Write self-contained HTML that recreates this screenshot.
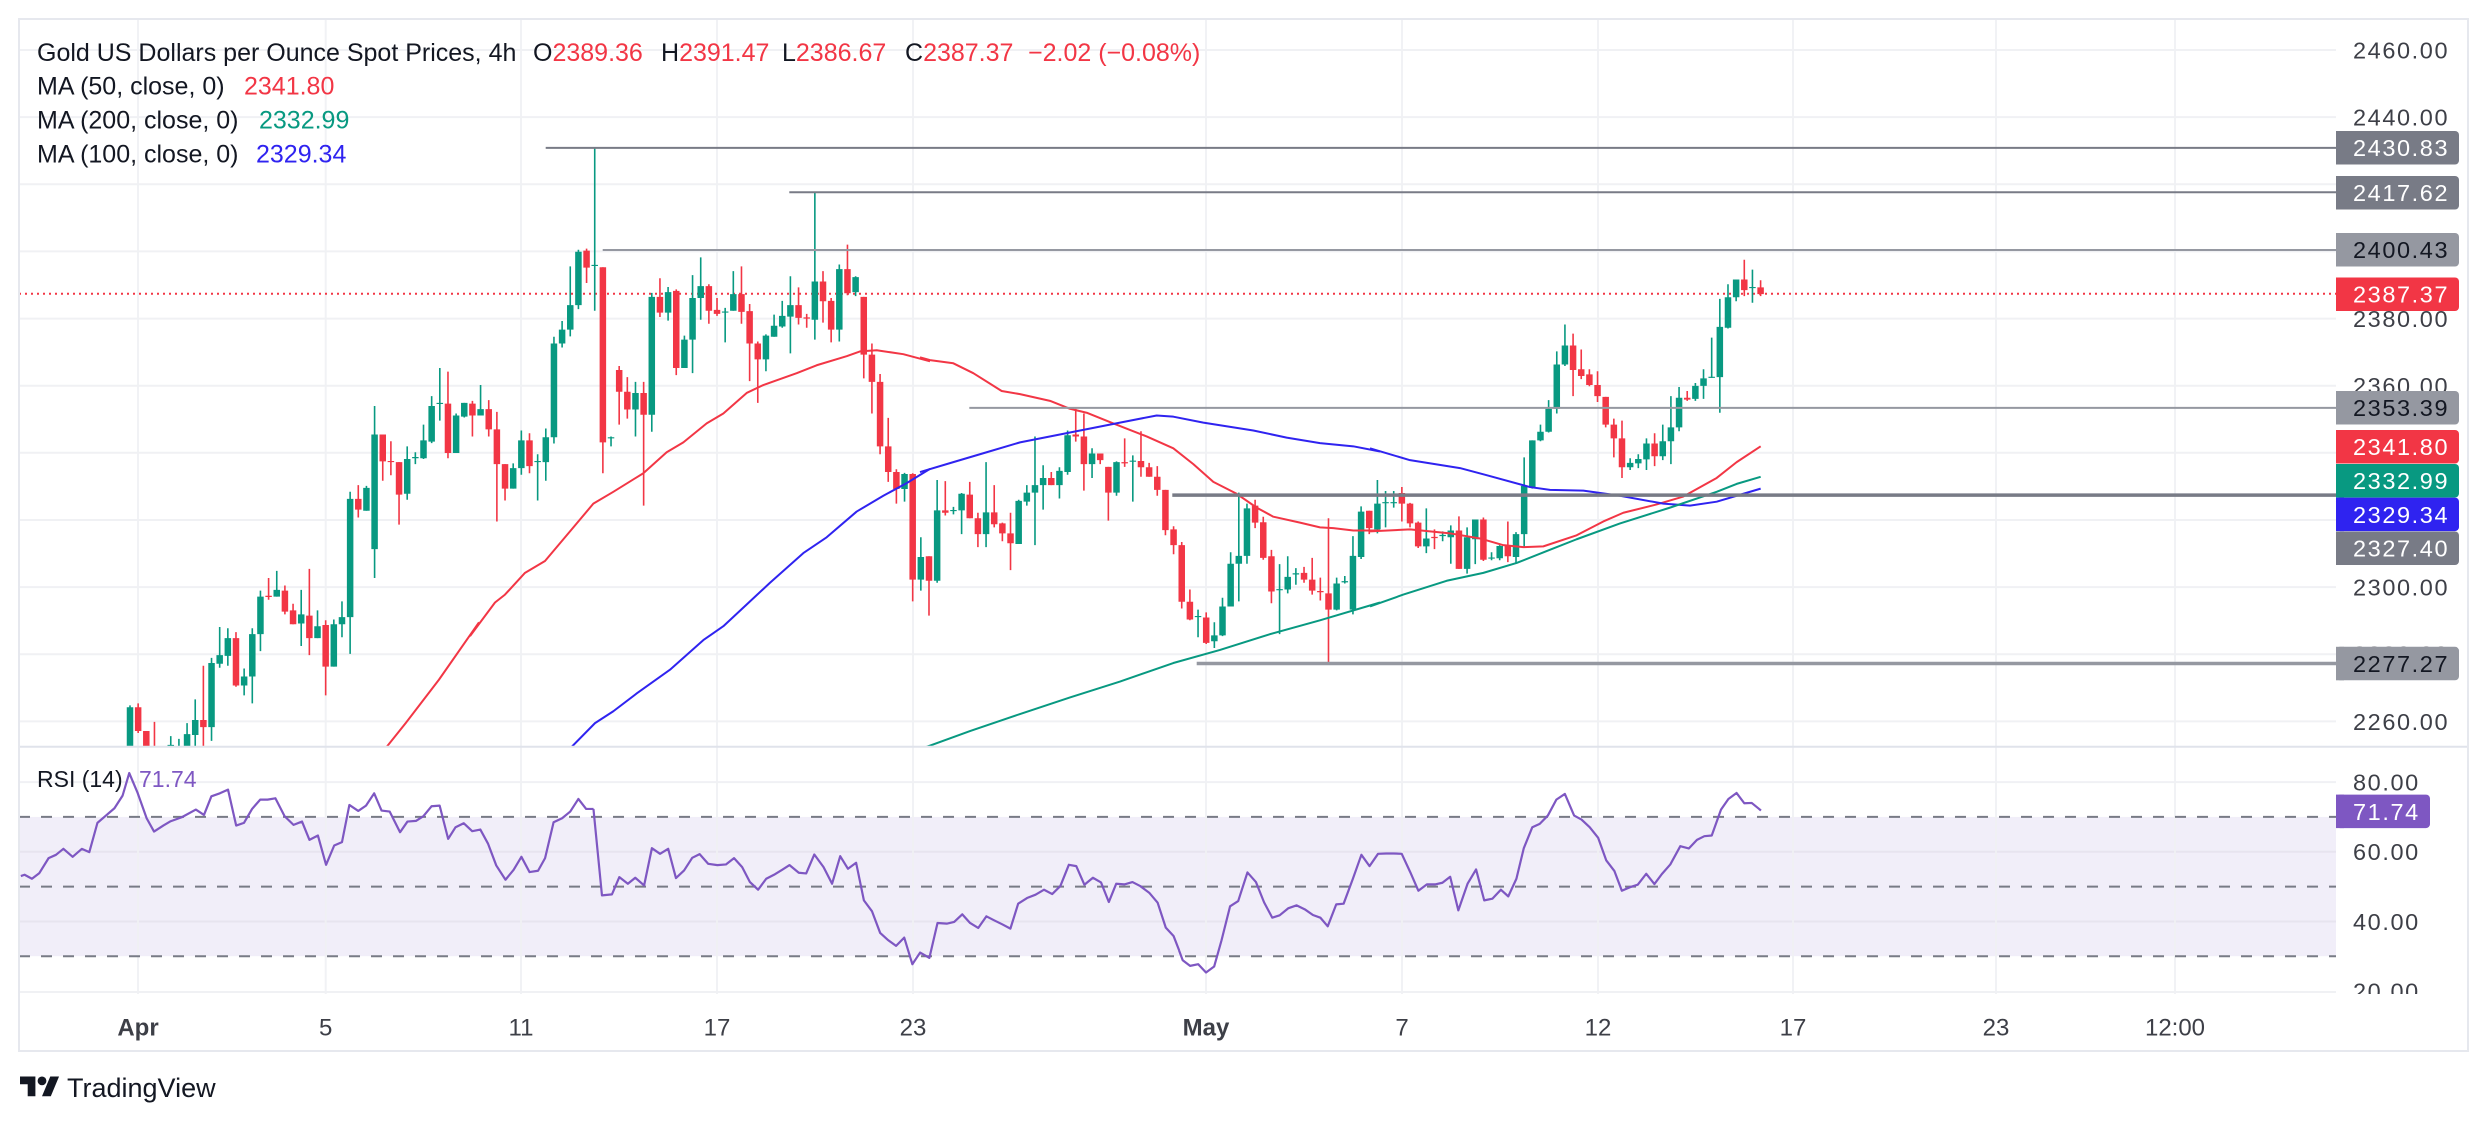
<!DOCTYPE html>
<html>
<head>
<meta charset="utf-8">
<style>
html,body{margin:0;padding:0;background:#fff;width:2488px;height:1122px;overflow:hidden;}
svg{display:block;}
</style>
</head>
<body>
<svg width="2488" height="1122" viewBox="0 0 2488 1122" xmlns="http://www.w3.org/2000/svg" font-family="'Liberation Sans', Arial, sans-serif">
<defs>
  <clipPath id="pp"><rect x="19" y="19" width="2317" height="728"/></clipPath>
  <clipPath id="rp"><rect x="19" y="747" width="2317" height="246"/></clipPath>
  <clipPath id="ax"><rect x="2336" y="747" width="132" height="247"/></clipPath>
</defs>
<rect x="0" y="0" width="2488" height="1122" fill="#fff"/>

<!-- RSI band -->
<rect x="19" y="816.9" width="2317" height="139.3" fill="#f1eef9"/>

<!-- horizontal gridlines -->
<g stroke="#f0f1f4" stroke-width="2">
  <line x1="19" x2="2336" y1="50" y2="50"/>
  <line x1="19" x2="2336" y1="117.1" y2="117.1"/>
  <line x1="19" x2="2336" y1="184.3" y2="184.3"/>
  <line x1="19" x2="2336" y1="251.4" y2="251.4"/>
  <line x1="19" x2="2336" y1="318.6" y2="318.6"/>
  <line x1="19" x2="2336" y1="385.7" y2="385.7"/>
  <line x1="19" x2="2336" y1="452.8" y2="452.8"/>
  <line x1="19" x2="2336" y1="520" y2="520"/>
  <line x1="19" x2="2336" y1="587.1" y2="587.1"/>
  <line x1="19" x2="2336" y1="654.3" y2="654.3"/>
  <line x1="19" x2="2336" y1="721.4" y2="721.4"/>
  <line x1="19" x2="2336" y1="782.1" y2="782.1"/>
  <line x1="19" x2="2336" y1="992" y2="992"/>
</g>
<g stroke="#e7e4ef" stroke-width="2">
  <line x1="19" x2="2336" y1="851.8" y2="851.8"/>
  <line x1="19" x2="2336" y1="921.5" y2="921.5"/>
</g>
<!-- vertical gridlines -->
<g stroke="#f0f1f4" stroke-width="2" opacity="0.9">
  <line x1="138" x2="138" y1="19" y2="994"/>
  <line x1="325.7" x2="325.7" y1="19" y2="994"/>
  <line x1="521" x2="521" y1="19" y2="994"/>
  <line x1="717" x2="717" y1="19" y2="994"/>
  <line x1="913" x2="913" y1="19" y2="994"/>
  <line x1="1206" x2="1206" y1="19" y2="994"/>
  <line x1="1402" x2="1402" y1="19" y2="994"/>
  <line x1="1598" x2="1598" y1="19" y2="994"/>
  <line x1="1793" x2="1793" y1="19" y2="994"/>
  <line x1="1996" x2="1996" y1="19" y2="994"/>
  <line x1="2175" x2="2175" y1="19" y2="994"/>
</g>

<!-- RSI dashed levels -->
<g stroke="#787b86" stroke-width="2" stroke-dasharray="11 11">
  <line x1="19" x2="2336" y1="816.9" y2="816.9"/>
  <line x1="19" x2="2336" y1="886.6" y2="886.6"/>
  <line x1="19" x2="2336" y1="956.2" y2="956.2"/>
</g>

<!-- last price dotted line -->
<line x1="19" x2="2336" y1="293.8" y2="293.8" stroke="#f23645" stroke-width="2" stroke-dasharray="2 4"/>

<g clip-path="url(#pp)">
  <!-- candles -->
  <g transform="translate(121.847,130) scale(8.153,0.39541)" fill="none">
    <path vector-effect="non-scaling-stroke" stroke="#089981" stroke-width="1.6" d="M1 1455V1600M6 1533V1600M7 1540V1600M8 1500V1600M9 1440V1560M11 1335V1545M12 1257V1360M13 1260V1355M15 1362V1430M16 1260V1450M17 1165V1318M19 1115V1180M22 1163V1305M24 1215V1285M26 1238V1357M27 1192V1283M28 915V1325M30 900V963M31 698V1133M35 800V935M36 815V845M37 745V832M38 673V792M39 602V735M41 717V817M42 690V727M44 645V722M48 843V907M49 760V872M51 820V937M52 755V887M53 523V793M54 483V550M55 345V522M56 303V453M58 45V457M60 775V800M63 637V775M65 412V763M67 397V482M69 520V602M70 367V615M71 322V480M74 450V537M75 357V457M79 517V610M80 467V523M81 432V500M82 370V565M85 158V530M88 340V535M90 370V420M96 867V940M98 1030V1165M100 885V1145M102 953V972M103 918V1022M106 840V1055M110 935V1047M111 898V950M112 775V1050M113 848V960M115 853V932M116 760V872M119 805V880M122 838V925M124 823V940M132 1213V1283M134 1245V1310M135 1183V1280M136 1068V1205M137 917V1192M138 945V1097M142 1098V1275M143 1078V1172M144 1108V1150M149 1132V1215M150 1128V1147M151 1027V1225M152 952V1085M154 885V1020M155 913V1005M156 913V955M160 957V1070M162 1015V1040M163 1000V1097M165 1005V1122M166 985V1098M168 1068V1088M169 1050V1088M171 1017V1095M172 828V1055M173 785V907M174 745V787M175 683V765M176 560V717M177 492V597M185 830V860M186 820V855M187 780V860M189 745V835M190 673V845M191 650V762M193 640V685M194 605V680M195 525V627M196 427V715M197 390V502M198 378V433M200 353V437"/>
    <path vector-effect="non-scaling-stroke" stroke="#f23645" stroke-width="1.6" d="M2 1450V1525M3 1520V1600M4 1497V1600M10 1355V1600M14 1270V1408M18 1133V1188M20 1152V1225M21 1198V1250M23 1110V1328M25 1240V1430M29 898V980M32 770V887M33 787V873M34 840V998M40 611V830M43 685V775M45 683V775M46 713V990M47 845V937M50 767V868M57 300V387M59 347V868M61 597V745M62 625V730M64 637V950M66 375V473M68 403V620M72 390V490M73 425V470M76 345V490M77 440V635M78 535V690M83 398V492M84 465V500M86 357V487M87 425V537M89 290V418M91 422V628M92 540V717M93 617V820M94 728V890M95 858V945M97 868V1192M99 1078V1228M101 888V975M104 890V982M105 968V1055M107 898V1005M108 993V1040M109 968V1113M114 865V898M117 705V788M118 717V912M120 818V845M121 852V988M123 780V852M125 762V877M126 842V877M127 850V925M128 910V1025M129 1002V1073M130 1042V1210M131 1162V1240M133 1220V1300M139 935V1007M140 978V1087M141 1062V1197M145 1105V1145M146 1082V1175M147 1132V1190M148 982V1350M153 963V1022M157 903V990M158 943V1005M159 990V1057M161 1010V1060M164 977V1110M167 980V1090M170 990V1093M178 515V673M179 555V630M180 605V648M181 610V688M182 675V752M183 730V828M184 735V880M188 767V850M192 660V685M199 328V420M201 380V420"/>
    <path vector-effect="non-scaling-stroke" stroke="#089981" stroke-width="6.5" d="M1 1460V1600M6 1555V1600M7 1560V1600M8 1528V1600M9 1492V1530M11 1348V1510M12 1328V1350M13 1285V1330M15 1382V1405M16 1275V1382M17 1180V1275M19 1163V1180M22 1225V1248M24 1255V1285M26 1250V1357M27 1232V1250M28 933V1232M30 905V963M31 770V1060M35 832V920M36 827V830M37 785V830M38 698V788M39 690V693M41 722V817M42 690V725M44 706V722M48 855V907M49 785V855M51 837V840M52 777V840M53 540V777M54 505V540M55 443V505M56 308V443M58 341V344M60 777V780M63 665V707M65 422V720M67 410V462M69 530V602M70 425V530M71 395V425M74 459V462M75 415V457M79 520V580M80 495V523M81 470V497M82 443V472M85 383V480M88 352V505M90 372V410M96 870V908M98 1080V1137M100 962V1140M102 961V964M103 920V962M106 967V1022M110 938V1047M111 917V940M112 898V917M113 880V898M115 862V898M116 772V865M119 818V845M122 840V917M124 836V839M132 1229V1232M134 1278V1293M135 1205V1278M136 1097V1205M137 1077V1097M138 957V1077M142 1161V1164M143 1130V1162M144 1121V1124M149 1147V1213M150 1141V1144M151 1077V1213M152 965V1080M154 945V1010M155 941V944M156 941V944M160 1033V1053M162 1024V1027M163 1013V1030M165 1030V1110M166 985V1035M168 1081V1084M169 1052V1083M171 1022V1080M172 900V1022M173 785V903M174 763V785M175 705V763M176 593V705M177 545V593M185 842V853M186 832V843M187 793V833M189 787V825M190 752V787M191 677V752M193 647V680M194 628V647M195 624V627M196 498V625M197 423V500M198 378V423M200 397V400"/>
    <path vector-effect="non-scaling-stroke" stroke="#f23645" stroke-width="6.5" d="M2 1460V1520M3 1520V1600M4 1560V1600M10 1492V1510M14 1285V1405M18 1178V1181M20 1165V1218M21 1215V1250M23 1228V1285M25 1252V1357M29 933V960M32 770V838M33 837V840M34 840V922M40 692V817M43 692V722M45 706V757M46 757V845M47 845V907M50 785V850M57 305V348M59 347V790M61 607V662M62 662V707M64 665V720M66 422V462M68 407V602M72 395V457M73 455V465M76 415V460M77 458V540M78 540V580M83 443V475M84 474V477M86 383V433M87 432V505M89 352V413M91 422V568M92 568V637M93 637V800M94 800V865M95 865V908M97 870V1137M99 1078V1140M101 962V968M104 922V982M105 982V1022M107 967V997M108 995V1020M109 1020V1045M114 880V898M117 770V775M118 775V845M120 818V835M121 852V917M123 840V843M125 837V853M126 853V877M127 877V910M128 910V1012M129 1010V1050M130 1050V1193M131 1193V1238M133 1233V1297M139 950V993M140 992V1082M141 1078V1167M145 1120V1137M146 1137V1165M147 1166V1169M148 1172V1213M153 963V1007M157 918V945M158 945V995M159 993V1053M161 1029V1032M164 1013V1110M167 985V1087M170 1052V1078M178 545V607M179 605V622M180 618V645M181 645V673M182 675V745M183 745V780M184 780V853M188 793V825M192 677V682M199 378V405M201 398V415"/>
  </g>

  <!-- moving averages -->
  <g fill="none" stroke-width="2" stroke-linejoin="round">
    <g transform="translate(19,130) scale(0.33333,0.39541)">
      <path vector-effect="non-scaling-stroke" stroke="#f23645" d="M1103,1560 L1160,1500 L1260,1390 L1380,1245"/>
    </g>
    <g transform="translate(470,130) scale(0.33333,0.39541)">
      <path vector-effect="non-scaling-stroke" stroke="#f23645" d="M0,1280 L75,1195 L105,1175 L165,1120 L225,1090 L300,1015 L370,945 L430,915 L520,868 L590,815 L640,790 L710,742 L760,717 L830,665 L880,645 L980,615 L1040,595 L1130,572 L1170,560 L1220,557 L1300,567 L1380,585"/>
      <path vector-effect="non-scaling-stroke" stroke="#2f23f0" d="M305,1560 L375,1500 L430,1470 L500,1425 L600,1365 L700,1290 L760,1255 L830,1200 L900,1145 L1000,1070 L1070,1030 L1160,965 L1240,925 L1310,893 L1380,857"/>
    </g>
    <g transform="translate(920,130) scale(0.33333,0.39541)">
      <path vector-effect="non-scaling-stroke" stroke="#f23645" d="M0,575 L30,582 L100,590 L160,615 L245,660 L300,668 L390,685 L450,705 L500,715 L580,742 L680,775 L760,805 L820,845 L880,890 L950,920 L1010,955 L1060,978 L1140,993 L1200,1005 L1240,1007 L1300,1013 L1380,1013"/>
      <path vector-effect="non-scaling-stroke" stroke="#2f23f0" d="M0,865 L100,840 L200,815 L300,790 L450,765 L600,740 L710,722 L760,725 L850,740 L1000,760 L1100,778 L1200,792 L1300,800 L1380,813"/>
      <path vector-effect="non-scaling-stroke" stroke="#089981" d="M20,1560 L150,1520 L300,1477 L450,1435 L600,1395 L760,1348 L900,1315 L1050,1275 L1200,1240 L1380,1195"/>
    </g>
    <g transform="translate(1370,130) scale(0.33333,0.39541)">
      <path vector-effect="non-scaling-stroke" stroke="#f23645" d="M0,1015 L120,1010 L240,1020 L330,1033 L400,1050 L460,1055 L520,1053 L620,1025 L700,990 L760,968 L860,947 L940,927 L1040,880 L1100,840 L1172,800"/>
      <path vector-effect="non-scaling-stroke" stroke="#2f23f0" d="M0,805 L120,835 L270,855 L350,873 L480,903 L540,910 L640,912 L750,925 L880,945 L960,950 L1040,940 L1100,925 L1172,907"/>
      <path vector-effect="non-scaling-stroke" stroke="#089981" d="M0,1205 L100,1175 L230,1140 L340,1120 L440,1095 L530,1065 L620,1035 L750,995 L900,955 L1040,915 L1100,895 L1172,877"/>
    </g>
  </g>

  <!-- horizontal drawings -->
  <g>
    <line x1="545.7" x2="2336" y1="147.9" y2="147.9" stroke="#787b86" stroke-width="2"/>
    <line x1="789.3" x2="2336" y1="192.3" y2="192.3" stroke="#787b86" stroke-width="2"/>
    <line x1="602.7" x2="2336" y1="250" y2="250" stroke="#9598a1" stroke-width="2"/>
    <line x1="969.3" x2="2336" y1="407.9" y2="407.9" stroke="#9598a1" stroke-width="2"/>
    <line x1="1172.3" x2="2336" y1="495.1" y2="495.1" stroke="#787b86" stroke-width="3.5"/>
    <line x1="1196.7" x2="2336" y1="663.5" y2="663.5" stroke="#9598a1" stroke-width="3.5"/>
  </g>
</g>

<!-- RSI line -->
<g clip-path="url(#rp)" fill="none" stroke="#7e57c2" stroke-width="2.2" stroke-linejoin="round">
  <g transform="translate(19,759.05) scale(0.36996,0.3325)">
    <path vector-effect="non-scaling-stroke" d="M5,352 L15,348 L35,360 L55,343 L80,298 L100,288 L120,270 L145,294 L170,270 L190,280 L212,192 L235,170 L258,148 L280,110 L298,42 L320,100 L345,178 L365,218 L390,200 L410,187 L440,175 L478,152 L500,168 L520,112 L543,103 L565,92 L587,200 L608,192 L630,150 L652,122 L672,122 L693,118 L718,172 L742,198 L765,188 L785,243 L808,230 L830,318 L852,260 L873,250 L893,138 L917,156 L938,140 L960,103 L980,155 L1002,158 L1030,220 L1050,188 L1073,186 L1093,172 L1115,142 L1137,140 L1160,240 L1180,205 L1202,193 L1225,217 L1247,212 L1268,255 L1290,320 L1315,363 L1337,333 L1358,294 L1380,340 L1403,336 L1422,298 L1445,190 L1468,178 L1490,158 L1512,120 L1533,150 L1553,150"/>
  </g>
  <g transform="translate(599,759.05) scale(0.36996,0.3325)">
    <path vector-effect="non-scaling-stroke" d="M-15,150 L8,410 L35,407 L55,355 L78,375 L98,357 L122,380 L143,268 L165,285 L187,270 L208,358 L230,335 L252,297 L272,286 L295,315 L320,319 L343,317 L365,298 L387,325 L408,370 L430,393 L452,360 L473,348 L495,333 L515,319 L540,342 L560,344 L582,287 L607,325 L630,375 L652,292 L673,330 L695,312 L716,425 L738,458 L760,523 L782,545 L803,562 L825,537 L847,617 L868,582 L893,598 L915,493 L940,495 L960,490 L982,467 L1003,493 L1025,508 L1047,473 L1068,485 L1090,497 L1112,510 L1133,435 L1157,418 L1180,408 L1203,393 L1225,406 L1247,382 L1270,318 L1290,322 L1312,378 L1335,357 L1357,371 L1378,430 L1398,375 L1420,377 L1442,370 L1463,382 L1488,403 L1510,432 L1532,507 L1553,532 L1568,575"/>
  </g>
  <g transform="translate(1179,759.05) scale(0.36996,0.3325)">
    <path vector-effect="non-scaling-stroke" d="M0,575 L10,605 L30,622 L52,617 L73,642 L95,624 L115,545 L138,443 L160,427 L185,341 L208,370 L230,431 L252,477 L272,470 L295,449 L318,440 L340,452 L362,469 L382,477 L402,503 L425,437 L445,435 L470,360 L493,288 L515,322 L538,285 L560,284 L580,284 L602,285 L625,340 L647,396 L670,377 L692,377 L712,372 L733,354 L755,455 L780,375 L803,332 L825,425 L847,420 L870,393 L890,413 L912,360 L932,268 L955,205 L975,195 L997,170 L1020,122 L1043,105 L1068,170 L1088,182 L1110,205 L1133,237 L1155,305 L1177,337 L1197,396 L1220,385 L1240,378 L1263,345 L1285,376 L1305,346 L1328,317 L1355,262 L1378,269 L1400,243 L1420,232 L1440,230 L1465,152 L1485,120 L1507,102 L1528,133 L1548,132 L1568,150 L1573,155"/>
  </g>
</g>

<!-- legend -->
<g font-size="25" fill="#131722">
  <text y="60.8"><tspan x="37">Gold US Dollars per Ounce Spot Prices, 4h</tspan><tspan x="533">O</tspan><tspan fill="#f23645">2389.36</tspan><tspan x="661">H</tspan><tspan fill="#f23645">2391.47</tspan><tspan x="782">L</tspan><tspan fill="#f23645">2386.67</tspan><tspan x="905">C</tspan><tspan fill="#f23645">2387.37</tspan><tspan x="1028" fill="#f23645">−2.02 (−0.08%)</tspan></text>
  <text y="94.7"><tspan x="37">MA (50, close, 0)</tspan><tspan x="244" fill="#f23645">2341.80</tspan></text>
  <text y="128.6"><tspan x="37">MA (200, close, 0)</tspan><tspan x="259" fill="#089981">2332.99</tspan></text>
  <text y="162.5"><tspan x="37">MA (100, close, 0)</tspan><tspan x="256" fill="#2f23f0">2329.34</tspan></text>
</g>
<text y="787" font-size="23" fill="#131722"><tspan x="37">RSI (14)</tspan><tspan x="139" fill="#7e57c2">71.74</tspan></text>

<!-- price axis labels -->
<g font-size="23.5" fill="#3d3f47" letter-spacing="1.6">
  <text x="2353" y="58.4">2460.00</text>
  <text x="2353" y="125.5">2440.00</text>
  <text x="2353" y="192.7">2420.00</text>
  <text x="2353" y="259.8">2400.00</text>
  <text x="2353" y="327">2380.00</text>
  <text x="2353" y="394.1">2360.00</text>
  <text x="2353" y="461.2">2340.00</text>
  <text x="2353" y="528.4">2320.00</text>
  <text x="2353" y="595.5">2300.00</text>
  <text x="2353" y="662.7">2280.00</text>
  <text x="2353" y="729.8">2260.00</text>
  <g clip-path="url(#ax)">
    <text x="2353" y="790.5">80.00</text>
    <text x="2353" y="860.2">60.00</text>
    <text x="2353" y="929.9">40.00</text>
    <text x="2353" y="999.6">20.00</text>
  </g>
</g>

<!-- price label boxes -->
<g font-size="23.5" letter-spacing="1.6">
  <rect x="2336" y="131" width="123" height="33.5" rx="4" fill="#787b86"/><rect x="2336" y="131" width="8" height="33.5" fill="#787b86"/>
  <text x="2353" y="156.2" fill="#fff">2430.83</text>
  <rect x="2336" y="176" width="123" height="33.5" rx="4" fill="#787b86"/><rect x="2336" y="176" width="8" height="33.5" fill="#787b86"/>
  <text x="2353" y="201.2" fill="#fff">2417.62</text>
  <rect x="2336" y="233" width="123" height="33.5" rx="4" fill="#9598a1"/><rect x="2336" y="233" width="8" height="33.5" fill="#9598a1"/>
  <text x="2353" y="258.2" fill="#131722">2400.43</text>
  <rect x="2336" y="277.5" width="123" height="33.5" rx="4" fill="#f23645"/><rect x="2336" y="277.5" width="8" height="33.5" fill="#f23645"/>
  <text x="2353" y="302.7" fill="#fff">2387.37</text>
  <rect x="2336" y="391" width="123" height="33.5" rx="4" fill="#9598a1"/><rect x="2336" y="391" width="8" height="33.5" fill="#9598a1"/>
  <text x="2353" y="416.2" fill="#131722">2353.39</text>
  <rect x="2336" y="430" width="123" height="33.5" rx="4" fill="#f23645"/><rect x="2336" y="430" width="8" height="33.5" fill="#f23645"/>
  <text x="2353" y="455.2" fill="#fff">2341.80</text>
  <rect x="2336" y="464" width="123" height="33.5" rx="4" fill="#089981"/><rect x="2336" y="464" width="8" height="33.5" fill="#089981"/>
  <text x="2353" y="489.2" fill="#fff">2332.99</text>
  <rect x="2336" y="497.6" width="123" height="33.5" rx="4" fill="#2f23f0"/><rect x="2336" y="497.6" width="8" height="33.5" fill="#2f23f0"/>
  <text x="2353" y="522.8" fill="#fff">2329.34</text>
  <rect x="2336" y="531.5" width="123" height="33.5" rx="4" fill="#787b86"/><rect x="2336" y="531.5" width="8" height="33.5" fill="#787b86"/>
  <text x="2353" y="556.7" fill="#fff">2327.40</text>
  <rect x="2336" y="646.8" width="123" height="33.5" rx="4" fill="#9598a1"/><rect x="2336" y="646.8" width="8" height="33.5" fill="#9598a1"/>
  <text x="2353" y="672" fill="#131722">2277.27</text>
  <rect x="2336" y="794.6" width="94" height="33.5" rx="4" fill="#7e57c2"/><rect x="2336" y="794.6" width="8" height="33.5" fill="#7e57c2"/>
  <text x="2353" y="819.8" fill="#fff">71.74</text>
</g>

<!-- frame and separators -->
<line x1="19" x2="2468" y1="746.8" y2="746.8" stroke="#e0e3eb" stroke-width="2"/>
<rect x="19" y="19" width="2449" height="1032" fill="none" stroke="#e6e8ee" stroke-width="2"/>

<!-- time axis -->
<g font-size="24" fill="#3d3f47" text-anchor="middle">
  <text x="138" y="1035.3" font-weight="bold">Apr</text>
  <text x="325.7" y="1035.3">5</text>
  <text x="521" y="1035.3">11</text>
  <text x="717" y="1035.3">17</text>
  <text x="913" y="1035.3">23</text>
  <text x="1206" y="1035.3" font-weight="bold">May</text>
  <text x="1402" y="1035.3">7</text>
  <text x="1598" y="1035.3">12</text>
  <text x="1793" y="1035.3">17</text>
  <text x="1996" y="1035.3">23</text>
  <text x="2175" y="1035.3">12:00</text>
</g>

<!-- TradingView logo -->
<g transform="translate(20,1072.1) scale(1.1)" fill="#131722">
  <path d="M14 22H7V11H0V4h14v18z"/>
  <circle cx="20" cy="8" r="4"/>
  <path d="M28 22h-8l7.5-18h8L28 22z"/>
</g>
<text x="67" y="1097" font-size="27" fill="#131722">TradingView</text>
</svg>
</body>
</html>
